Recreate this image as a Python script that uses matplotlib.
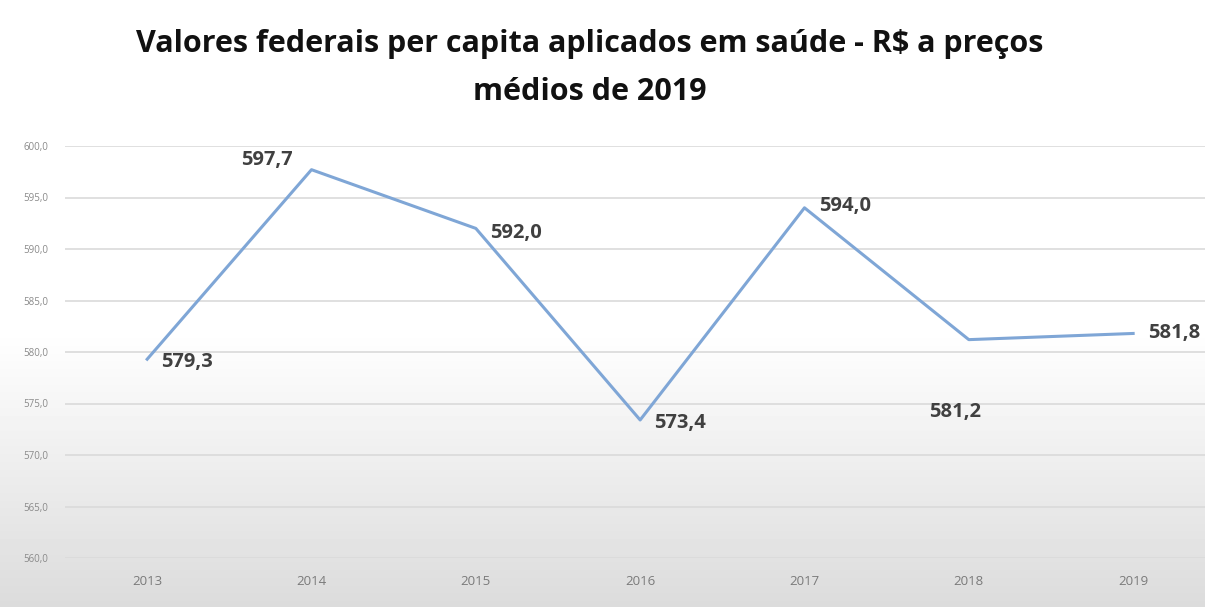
import numpy as np
import matplotlib
matplotlib.use("Agg")
import matplotlib.pyplot as plt

YEARS = ["2013", "2014", "2015", "2016", "2017", "2018", "2019"]
VALUES = [579.3, 597.7, 592.0, 573.4, 594.0, 581.2, 581.8]
LABELS = ["579,3", "597,7", "592,0", "573,4", "594,0", "581,2", "581,8"]
YTICKS = [560, 565, 570, 575, 580, 585, 590, 595, 600]

TITLE_1 = "Valores federais per capita aplicados em saúde - R$ a preços"
TITLE_2 = "médios de 2019"

# label offsets in pixels (dx, dy) and horizontal alignment
OFFSETS = [(14, -3, "left"), (-19, 10, "right"), (14, -5, "left"), (14, -3, "left"),
           (15, 2, "left"), (-40, -72, "left"), (15, 0, "left")]

plt.rcParams["font.family"] = ["Open Sans", "DejaVu Sans"]

W, H = 1205, 607
fig = plt.figure(figsize=(W / 100, H / 100), dpi=100)

# background: white top fading to light grey at the bottom
bg = fig.add_axes([0, 0, 1, 1], zorder=-10)
rows = np.arange(H)
t = np.clip((rows - 330) / (H - 330), 0, 1)
grad = (1.0 - 0.14 * t)[:, None]
bg.imshow(grad, cmap="gray", vmin=0, vmax=1, aspect="auto", extent=[0, 1, 0, 1], origin="upper")
bg.axis("off")

x0, step = 148, 164.2
left, right = 65, W
top, bottom = 146, 558
ax = fig.add_axes([left / W, 1 - bottom / H, (right - left) / W, (bottom - top) / H])
ax.patch.set_alpha(0)

x = np.arange(len(YEARS))
ax.plot(x, VALUES, color="#7FA6D6", lw=2.2, zorder=3)

ax.set_ylim(560, 600)
ax.set_xlim(-0.5, (W - x0) / step)
ax.set_yticks(YTICKS)
ax.set_yticklabels([f"{v:.1f}".replace(".", ",") for v in YTICKS])
ax.set_xticks(x)
ax.set_xticklabels(YEARS)
ax.tick_params(axis="y", length=0, labelsize=7, labelcolor="#8a8a8a", pad=12)
ax.tick_params(axis="x", length=0, labelsize=9.5, labelcolor="#7a7a7a", pad=12)
ax.grid(axis="y", color="#dadada", lw=1.2)
ax.set_axisbelow(True)
for s in ax.spines.values():
    s.set_visible(False)

for xi, v, lab, (dx, dy, ha) in zip(x, VALUES, LABELS, OFFSETS):
    ax.annotate(lab, (xi, v), xytext=(dx, dy), textcoords="offset pixels",
                ha=ha, va="center", fontsize=14.5, fontweight="bold",
                color="#404040", annotation_clip=False)

fig.text(590 / W, 1 - 52 / H, TITLE_1, ha="center", va="baseline", fontsize=22,
         fontweight="bold", color="#111111")
fig.text(590 / W, 1 - 100 / H, TITLE_2, ha="center", va="baseline", fontsize=22,
         fontweight="bold", color="#111111")

fig.savefig("out.png", dpi=100)
